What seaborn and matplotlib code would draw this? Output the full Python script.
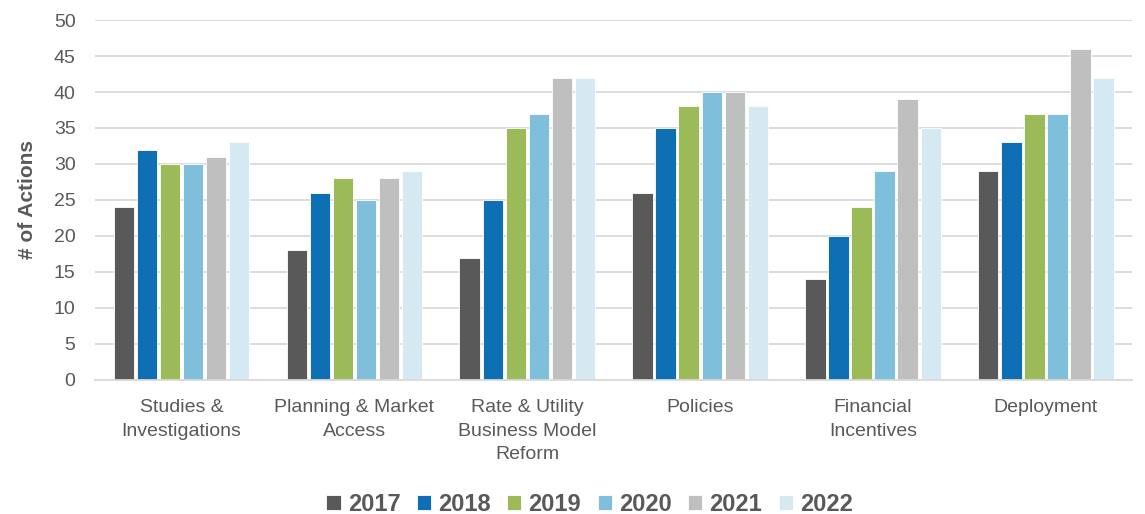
import pandas as pd
import seaborn as sns
import matplotlib.pyplot as plt

# Chart data
categories = ['Studies &\nInvestigations', 'Planning & Market\nAccess',
              'Rate & Utility\nBusiness Model\nReform', 'Policies',
              'Financial\nIncentives', 'Deployment']
years = ['2017', '2018', '2019', '2020', '2021', '2022']
actions_2017 = [24, 18, 17, 26, 14, 29]
actions_2018 = [32, 26, 25, 35, 20, 33]
actions_2019 = [30, 28, 35, 38, 24, 37]
actions_2020 = [30, 25, 37, 40, 29, 37]
actions_2021 = [31, 28, 42, 40, 39, 46]
actions_2022 = [33, 29, 42, 38, 35, 42]
yticks = [0, 5, 10, 15, 20, 25, 30, 35, 40, 45, 50]

series = [actions_2017, actions_2018, actions_2019, actions_2020, actions_2021, actions_2022]
rows = []
for year, vals in zip(years, series):
    for cat, v in zip(categories, vals):
        rows.append({'Category': cat, 'Year': year, 'Actions': v})
df = pd.DataFrame(rows)

palette = ['#595959', '#0F6FB5', '#9BBB59', '#7FBFDB', '#BFBFBF', '#D4E9F2']
text_color = '#595959'

sns.set_theme(style='white')
plt.rcParams['font.family'] = ['Liberation Sans', 'DejaVu Sans']

fig = plt.figure(figsize=(11.45, 5.14), dpi=100)
ax = fig.add_axes([0.083, 0.261, 0.906, 0.700])

sns.barplot(data=df, x='Category', y='Actions', hue='Year', hue_order=years,
            order=categories, palette=palette, saturation=1, width=0.8, gap=0.12,
            edgecolor='white', linewidth=0.6, ax=ax, legend=True)

ax.set_ylim(0, 50)
ax.set_yticks(yticks)
ax.set_xlim(-0.5, len(categories) - 0.5)
ax.yaxis.grid(True, color='#D9D9D9', linewidth=1.3)
ax.set_axisbelow(True)
for side in ['top', 'right', 'left']:
    ax.spines[side].set_visible(False)
ax.spines['bottom'].set_color('#D9D9D9')
ax.spines['bottom'].set_linewidth(1.3)
ax.tick_params(axis='both', length=0, labelsize=14, labelcolor=text_color)
ax.tick_params(axis='x', pad=14)
ax.tick_params(axis='y', pad=14)
for lbl in ax.get_xticklabels():
    lbl.set_linespacing(1.5)
ax.set_xlabel('')
ax.set_ylabel('# of Actions', fontsize=15, fontweight='bold', color=text_color, labelpad=12)

handles, labels = ax.get_legend_handles_labels()
ax.get_legend().remove()
fig.legend(handles, labels, loc='lower center', bbox_to_anchor=(0.515, -0.045), ncol=6,
           frameon=False, prop={'size': 17, 'weight': 'bold'}, labelcolor=text_color,
           handlelength=0.6, handleheight=0.6, handletextpad=0.3, columnspacing=0.7)

fig.savefig('out.png', dpi=100)
